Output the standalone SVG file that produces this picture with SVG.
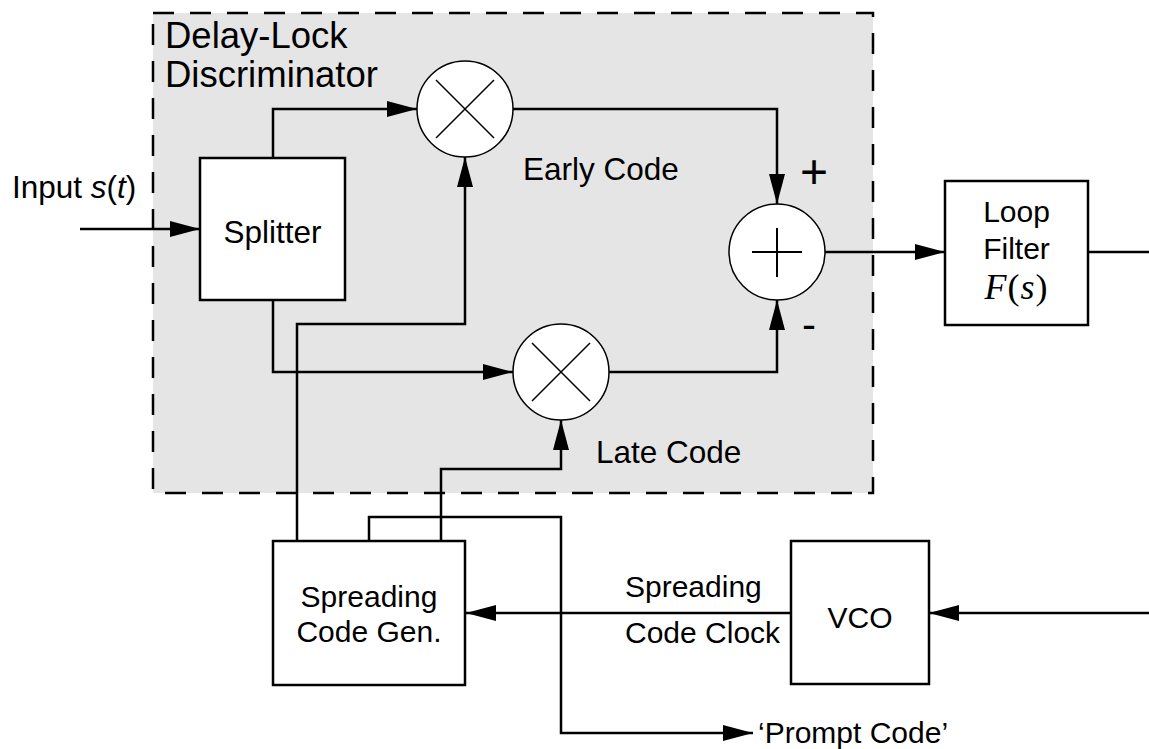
<svg xmlns="http://www.w3.org/2000/svg" width="1149" height="749" viewBox="0 0 1149 749">
<defs>
<marker id="arr" markerUnits="userSpaceOnUse" markerWidth="30" markerHeight="16" refX="30" refY="8" orient="auto">
<path d="M0,0 L30,8 L0,16 z" fill="#000"/>
</marker>
<style>
.t{font-family:"Liberation Sans",Arial,sans-serif;font-size:30px;fill:#000}
.b{font-size:31.5px}
.m{text-anchor:middle}
.box{fill:#fff;stroke:#000;stroke-width:2.5}
.circ{fill:#fff;stroke:#000;stroke-width:1.5}
.sym{stroke:#000;stroke-width:1.5;fill:none}
.c{fill:none;stroke:#000;stroke-width:2.5}
.ca{fill:none;stroke:#000;stroke-width:2.5;marker-end:url(#arr)}
</style>
</defs>
<rect width="1149" height="749" fill="#fff"/>
<g id="discriminator">
<rect x="153" y="13" width="720" height="480" fill="#e5e5e5" stroke="#000" stroke-width="2.5" stroke-dasharray="21 16"/>
<text class="t" x="165" y="48" style="font-size:36.5px">Delay-Lock</text>
<text class="t" x="165" y="87" style="font-size:36.5px">Discriminator</text>
</g>
<g id="connectors">
<path class="ca" d="M80,229 H200"/>
<path class="ca" d="M273,158 V109 H417"/>
<path class="ca" d="M273,300 V372 H513"/>
<path class="ca" d="M297,540 V324 H465 V157"/>
<path class="ca" d="M441,540 V469 H561 V420"/>
<path class="ca" d="M369,540 V517 H561 V733 H753"/>
<path class="ca" d="M513,109 H777 V204"/>
<path class="ca" d="M609,372 H777 V300"/>
<path class="ca" d="M825,252 H945"/>
<path class="c" d="M1088,252 H1149"/>
<path class="ca" d="M1149,613 H929"/>
<path class="ca" d="M791,613 H466"/>
</g>
<g id="splitter">
<rect class="box" x="200" y="158" width="145" height="142"/>
<text class="t b m" x="272.5" y="243">Splitter</text>
</g>
<g id="early-mult">
<circle class="circ" cx="465" cy="109" r="48"/>
<path class="sym" d="M436,80 L494,138 M494,80 L436,138"/>
</g>
<g id="late-mult">
<circle class="circ" cx="561" cy="372" r="48"/>
<path class="sym" d="M532,343 L590,401 M590,343 L532,401"/>
</g>
<g id="summer">
<circle class="circ" cx="777" cy="252" r="48"/>
<path class="sym" d="M752,252 H802 M777,228 V277" style="stroke-width:2"/>
</g>
<g id="loop-filter">
<rect class="box" x="945" y="181" width="143" height="144"/>
<text class="t m" x="1016.5" y="222">Loop</text>
<text class="t m" x="1016.5" y="259">Filter</text>
<text x="1016.5" y="299" text-anchor="middle" style="font-family:'Liberation Serif','Times New Roman',serif;font-size:36px;letter-spacing:1px"><tspan font-style="italic">F</tspan>(<tspan font-style="italic">s</tspan>)</text>
</g>
<g id="spreading-code-gen">
<rect class="box" x="273" y="541" width="192" height="144"/>
<text class="t m" x="369" y="607">Spreading</text>
<text class="t m" x="369" y="642">Code Gen.</text>
</g>
<g id="vco">
<rect class="box" x="791" y="541" width="138" height="143"/>
<text class="t m" x="860" y="628">VCO</text>
</g>
<g id="labels">
<text class="t b" x="12" y="198">Input <tspan font-style="italic">s</tspan>(<tspan font-style="italic">t</tspan>)</text>
<text class="t b" x="523" y="180">Early Code</text>
<text class="t b" x="596" y="463">Late Code</text>
<text class="t m" x="814" y="188" style="font-size:48px">+</text>
<text class="t" x="802" y="339" style="font-size:42px">-</text>
<text class="t" x="625" y="597">Spreading</text>
<text class="t" x="625" y="643">Code Clock</text>
<text class="t" x="758" y="743">‘Prompt Code’</text>
</g>
</svg>
